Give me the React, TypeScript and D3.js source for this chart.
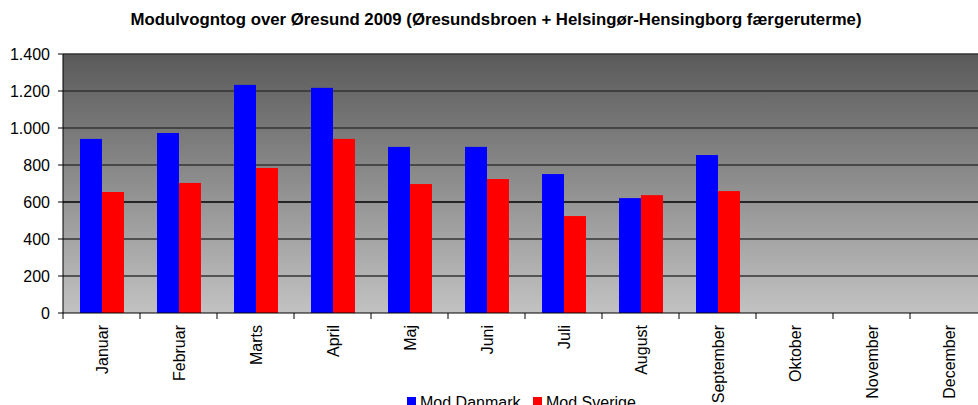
import React from "react";
import * as d3 from "d3";

const months = ["Januar","Februar","Marts","April","Maj","Juni","Juli","August","September","Oktober","November","December"];
const modDanmark: (number | null)[] = [941, 973, 1233, 1217, 898, 898, 751, 621, 854, null, null, null];
const modSverige: (number | null)[] = [654, 703, 784, 941, 697, 724, 524, 637, 659, null, null, null];
const yTicks = [0, 200, 400, 600, 800, 1000, 1200, 1400];
const seriesNames = ["Mod Danmark", "Mod Sverige"];
const colors = ["#0000ff", "#ff0000"];

const W = 978, H = 405;
const left = 63, right = 987, top = 54, bottom = 313;

export default function App() {
  const x = d3.scaleBand<string>().domain(months).range([left, right]).paddingInner(0).paddingOuter(0);
  const y = d3.scaleLinear().domain([0, 1400]).range([bottom, top]);
  const bw = x.bandwidth();
  const barW = bw * 22 / 77;
  const off = bw * 17 / 77;
  const fmt = (v: number) => d3.format(",")(v).replace(/,/g, ".");
  const font = "Arial, 'Liberation Sans', sans-serif";
  const series = [modDanmark, modSverige];
  return (
    <svg width={W} height={H} style={{ position: "absolute", left: 0, top: 0 }} fontFamily={font}>
      <defs>
        <linearGradient id="bg" x1="0" y1="0" x2="0" y2="1">
          <stop offset="0" stopColor="#5a5a5a" />
          <stop offset="1" stopColor="#c2c2c2" />
        </linearGradient>
      </defs>
      <rect x={0} y={0} width={W} height={H} fill="#fff" />
      <text x={496} y={25} textAnchor="middle" fontSize={16.5} fontWeight="bold" fill="#000" textLength={731} lengthAdjust="spacingAndGlyphs">
        Modulvogntog over Øresund 2009 (Øresundsbroen + Helsingør-Hensingborg færgeruterme)
      </text>
      <rect x={left} y={top} width={right - left} height={bottom - top} fill="url(#bg)" />
      {yTicks.filter(t => t > 0).map(t => (
        <line key={t} x1={left} x2={right} y1={y(t)} y2={y(t)} stroke={t === 600 ? "#000" : "#333"} strokeWidth={1.5} />
      ))}
      {series.map((s, si) => s.map((v, i) => v == null ? null : (
        <rect key={si + "-" + i} x={(x(months[i]) as number) + off + si * barW} y={y(v)} width={barW} height={y(0) - y(v)} fill={colors[si]} />
      )))}
      <line x1={left} x2={left} y1={top} y2={bottom} stroke="#000" strokeWidth={1} />
      <line x1={left} x2={right} y1={bottom} y2={bottom} stroke="#000" strokeWidth={1} />
      {yTicks.map(t => (
        <g key={t}>
          <line x1={left - 5} x2={left} y1={y(t)} y2={y(t)} stroke="#000" />
          <text x={50} y={y(t)} dy="0.35em" textAnchor="end" fontSize={16} fill="#000">{fmt(t)}</text>
        </g>
      ))}
      {months.map((m, i) => (
        <g key={m}>
          <line x1={(x(m) as number)} x2={(x(m) as number)} y1={bottom} y2={bottom + 6} stroke="#000" />
          <text transform={`translate(${(x(m) as number) + bw / 2 + 6},${325}) rotate(-90)`} textAnchor="end" fontSize={16} fill="#000">{m}</text>
        </g>
      ))}
      {seriesNames.map((n, i) => {
        const lx = i === 0 ? 407 : 533;
        return (
          <g key={n}>
            <rect x={lx} y={397} width={9} height={9} fill={colors[i]} />
            <text x={lx + 13} y={408} fontSize={16} fill="#000">{n}</text>
          </g>
        );
      })}
    </svg>
  );
}
